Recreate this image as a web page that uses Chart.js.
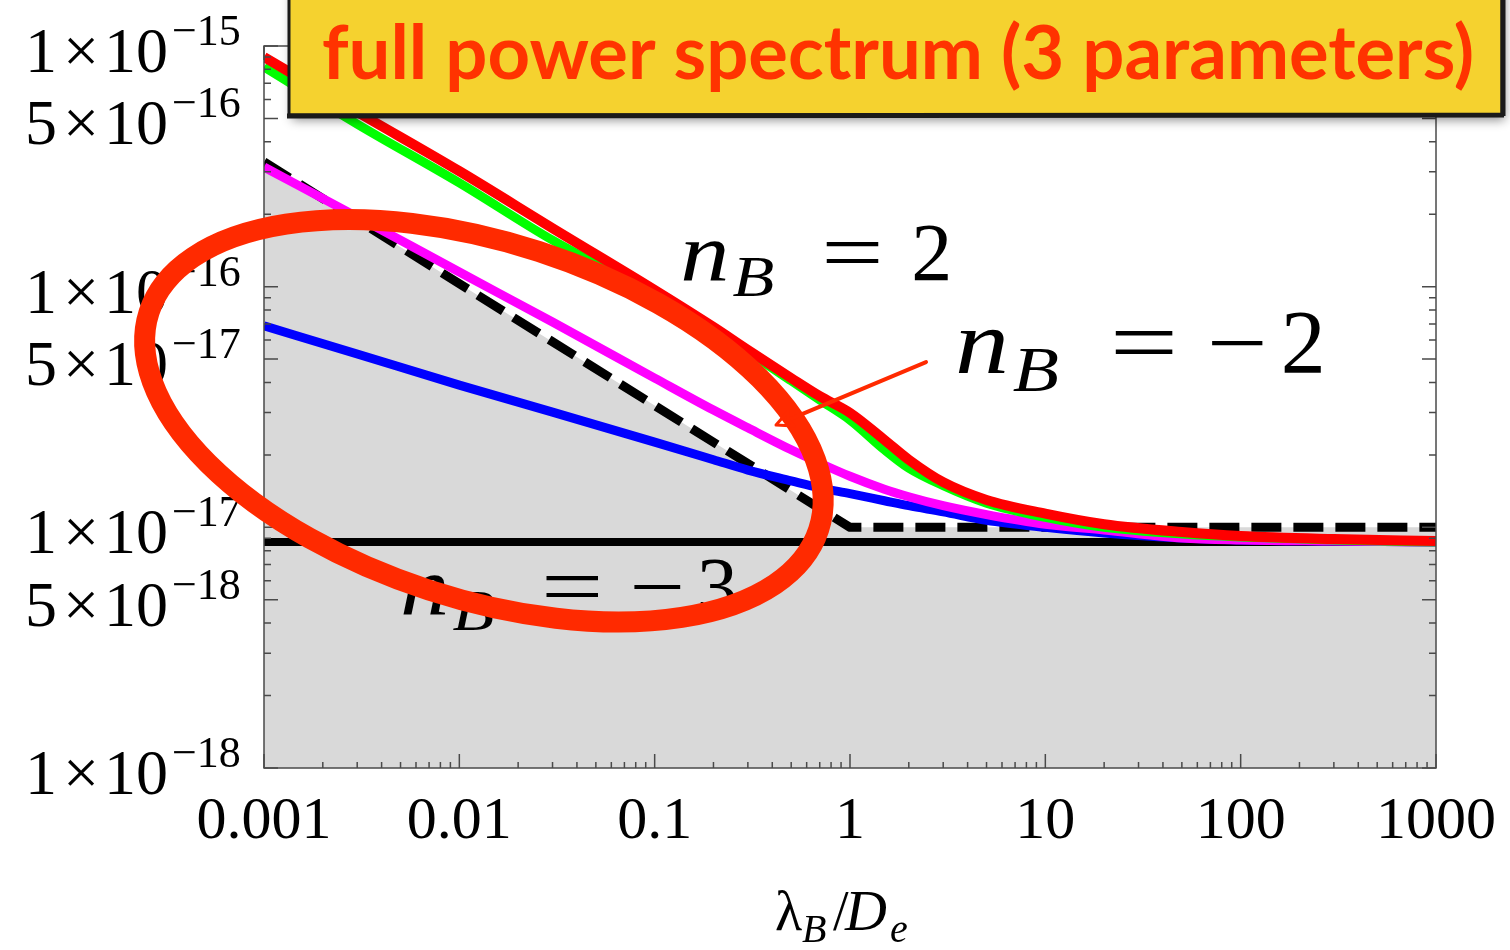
<!DOCTYPE html>
<html>
<head>
<meta charset="utf-8">
<script src="https://cdn.jsdelivr.net/npm/chart.js@4.4.1/dist/chart.umd.min.js"></script>
<style>
  html, body { margin: 0; padding: 0; background: #ffffff; }
  #wrap { width: 1510px; height: 950px; position: relative; }
</style>
</head>
<body>
<div id="wrap"><canvas id="spectrum"></canvas></div>
<script>
// Sampled ratio lambda_B / D_e (shared by the four spectra)
const lambdaRatio = [0.001, 0.003, 0.01, 0.03, 0.1, 0.2, 0.3, 0.5, 0.7, 1, 1.5, 2, 3, 5, 10, 20, 50, 100, 300, 1000];

// Bound on the field amplitude for each spectral index
const redSeries     = [9.0e-16, 5.32e-16, 3.02e-16, 1.75e-16, 9.69e-17, 6.80e-17, 5.46e-17, 4.17e-17, 3.51e-17, 2.99e-17, 2.31e-17, 1.91e-17, 1.54e-17, 1.30e-17, 1.14e-17, 1.03e-17, 9.56e-18, 9.20e-18, 8.94e-18, 8.77e-18];
const greenSeries   = [8.18e-16, 4.74e-16, 2.70e-16, 1.56e-16, 9.24e-17, 6.61e-17, 5.35e-17, 4.06e-17, 3.38e-17, 2.79e-17, 2.10e-17, 1.76e-17, 1.49e-17, 1.26e-17, 1.10e-17, 1.00e-17, 9.38e-18, 9.12e-18, 8.86e-18, 8.69e-18];
const magentaSeries = [3.14e-16, 1.95e-16, 1.15e-16, 7.13e-17, 4.17e-17, 3.07e-17, 2.59e-17, 2.10e-17, 1.85e-17, 1.63e-17, 1.44e-17, 1.34e-17, 1.23e-17, 1.13e-17, 1.03e-17, 9.75e-18, 9.03e-18, 8.86e-18, 8.77e-18, 8.69e-18];
const blueSeries    = [6.87e-17, 5.25e-17, 3.90e-17, 3.01e-17, 2.26e-17, 1.91e-17, 1.73e-17, 1.56e-17, 1.46e-17, 1.38e-17, 1.29e-17, 1.23e-17, 1.16e-17, 1.07e-17, 1.00e-17, 9.47e-18, 9.03e-18, 8.86e-18, 8.77e-18, 8.69e-18];

// Dashed envelope (grey excluded region) and the flat black floor
const boundX = [0.001, 1, 1000];
const boundY = [3.3e-16, 1e-17, 1e-17];
const floorX = [0.001, 1000];
const floorY = [8.7e-18, 8.7e-18];

// Axis ticks
const xTickValues = [0.001, 0.01, 0.1, 1, 10, 100, 1000];
const xTickLabels = ['0.001', '0.01', '0.1', '1', '10', '100', '1000'];
const yTickValues = [1e-15, 5e-16, 1e-16, 5e-17, 1e-17, 5e-18, 1e-18];
const yTickMantissa = ['1', '5', '1', '5', '1', '5', '1'];
const yTickExponent = ['\u221215', '\u221216', '\u221216', '\u221217', '\u221217', '\u221218', '\u221218'];

// Annotation anchors in data coordinates
const notePlus2  = { x: 0.135, y: 1.07e-16, sign: '', digit: '2', size: 82 };
const noteMinus2 = { x: 3.45,  y: 4.38e-17, sign: '\u2212', digit: '2', size: 90 };
const noteMinus3 = { x: 0.00497, y: 4.36e-18, sign: '\u2212', digit: '3', size: 82 };
const arrowFrom = { x: 2.45, y: 4.86e-17 };
const arrowTo   = { x: 0.418, y: 2.66e-17 };
const ringCenter = { x: 0.01336, y: 2.77e-17 };
const titleText = 'full power spectrum (3 parameters)';

const pts = (xs, ys) => xs.map((x, i) => ({ x: x, y: ys[i] }));
const SERIF = '"Liberation Serif", "Times New Roman", serif';

function drawMath(ctx, px, base, s, sign, digit) {
  ctx.fillStyle = '#000';
  ctx.textAlign = 'left';
  ctx.textBaseline = 'alphabetic';
  ctx.save();
  ctx.translate(px, base);
  ctx.scale(1.2, 1);
  ctx.font = 'italic ' + s + 'px ' + SERIF;
  ctx.fillText('n', 0, 0);
  ctx.restore();
  ctx.save();
  ctx.translate(px + 0.64 * s, base + 0.2 * s);
  ctx.scale(1.2, 1);
  ctx.font = 'italic ' + Math.round(s * 0.7) + 'px ' + SERIF;
  ctx.fillText('B', 0, 0);
  ctx.restore();
  ctx.font = s + 'px ' + SERIF;
  ctx.save();
  ctx.translate(px + 1.72 * s, base);
  ctx.scale(1.35, 1);
  ctx.fillText('=', 0, 0);
  ctx.restore();
  if (sign) {
    ctx.save();
    ctx.translate(px + 2.8 * s, base);
    ctx.scale(1.2, 1);
    ctx.fillText(sign, 0, 0);
    ctx.restore();
    ctx.fillText(digit, px + 3.62 * s, base);
  } else {
    ctx.fillText(digit, px + 2.82 * s, base);
  }
}

const frameAndNotes = {
  id: 'frameAndNotes',
  afterDatasetsDraw(chart) {
    const ctx = chart.ctx;
    const xs = chart.scales.x, ys = chart.scales.y;
    const a = chart.chartArea;
    ctx.save();
    ctx.strokeStyle = '#4a4a4a';
    ctx.lineWidth = 1.5;
    ctx.strokeRect(a.left, a.top, a.right - a.left, a.bottom - a.top);
    ctx.beginPath();
    // x ticks (bottom and top, pointing inward)
    for (let e = -3; e <= 3; e++) {
      for (let m = 1; m <= 9; m++) {
        const v = m * Math.pow(10, e);
        if (v > 1000 * 1.0001) continue;
        const p = xs.getPixelForValue(v);
        const len = m === 1 ? 14 : 6;
        ctx.moveTo(p, a.bottom); ctx.lineTo(p, a.bottom - len);
        ctx.moveTo(p, a.top); ctx.lineTo(p, a.top + len);
      }
    }
    // y ticks (left and right, pointing inward)
    for (let e = -18; e <= -16; e++) {
      for (let m = 1; m <= 10; m++) {
        const v = m * Math.pow(10, e);
        const p = ys.getPixelForValue(v);
        const len = (m === 1 || m === 5 || m === 10) ? 14 : 7;
        ctx.moveTo(a.left, p); ctx.lineTo(a.left + len, p);
        ctx.moveTo(a.right, p); ctx.lineTo(a.right - len, p);
      }
    }
    ctx.stroke();
    ctx.restore();
  },
  afterDraw(chart) {
    const ctx = chart.ctx;
    const xs = chart.scales.x, ys = chart.scales.y;
    const a = chart.chartArea;
    ctx.save();
    ctx.fillStyle = '#000';
    ctx.textBaseline = 'alphabetic';

    // y tick labels: mantissa, times sign, 10 and a superscript exponent
    yTickValues.forEach((v, i) => {
      const p = ys.getPixelForValue(v);
      ctx.font = '64px ' + SERIF;
      ctx.textAlign = 'right';
      ctx.fillText(yTickMantissa[i], a.left - 207, p + 26);
      ctx.fillText('10', a.left - 96, p + 26);
      ctx.textAlign = 'center';
      ctx.fillText('\u00d7', a.left - 183, p + 26);
      ctx.font = '44px ' + SERIF;
      ctx.textAlign = 'left';
      ctx.fillText(yTickExponent[i], a.left - 92, p - 1);
    });

    // x tick labels
    ctx.font = '60px ' + SERIF;
    ctx.textAlign = 'center';
    xTickValues.forEach((v, i) => {
      ctx.fillText(xTickLabels[i], xs.getPixelForValue(v), a.bottom + 70);
    });

    // x axis title  lambda_B / D_e
    const cx = (a.left + a.right) / 2 - 75;
    const tb = a.bottom + 162;
    ctx.textAlign = 'left';
    ctx.font = '56px ' + SERIF;
    ctx.fillText('\u03bb', cx, tb);
    ctx.font = 'italic 40px ' + SERIF;
    ctx.fillText('B', cx + 27, tb + 12);
    ctx.font = '56px ' + SERIF;
    ctx.fillText('/', cx + 58, tb);
    ctx.font = 'italic 58px ' + SERIF;
    ctx.fillText('D', cx + 70, tb);
    ctx.font = 'italic 40px ' + SERIF;
    ctx.fillText('e', cx + 115, tb + 12);

    // spectral index labels
    [notePlus2, noteMinus2, noteMinus3].forEach(n => {
      drawMath(ctx, xs.getPixelForValue(n.x), ys.getPixelForValue(n.y), n.size, n.sign, n.digit);
    });

    // highlight ring
    const ex = xs.getPixelForValue(ringCenter.x), ey = ys.getPixelForValue(ringCenter.y);
    ctx.strokeStyle = '#ff2a00';
    ctx.lineWidth = 21;
    ctx.beginPath();
    ctx.ellipse(ex, ey, 352, 178, 18 * Math.PI / 180, 0, Math.PI * 2);
    ctx.stroke();

    // arrow to the n_B = -2 curve
    const ax0 = xs.getPixelForValue(arrowFrom.x), ay0 = ys.getPixelForValue(arrowFrom.y);
    const ax1 = xs.getPixelForValue(arrowTo.x), ay1 = ys.getPixelForValue(arrowTo.y);
    const ang = Math.atan2(ay1 - ay0, ax1 - ax0);
    ctx.lineWidth = 4;
    ctx.lineCap = 'round';
    ctx.lineJoin = 'round';
    ctx.beginPath();
    ctx.moveTo(ax0, ay0);
    ctx.lineTo(ax1 + 14 * Math.cos(ang + Math.PI), ay1 + 14 * Math.sin(ang + Math.PI));
    ctx.stroke();
    ctx.beginPath();
    const hl = 18, hw = 0.45;
    ctx.moveTo(ax1, ay1);
    ctx.lineTo(ax1 - hl * Math.cos(ang - hw), ay1 - hl * Math.sin(ang - hw));
    ctx.lineTo(ax1 - hl * 0.75 * Math.cos(ang), ay1 - hl * 0.75 * Math.sin(ang));
    ctx.lineTo(ax1 - hl * Math.cos(ang + hw), ay1 - hl * Math.sin(ang + hw));
    ctx.closePath();
    ctx.lineWidth = 3;
    ctx.stroke();

    // title banner
    ctx.save();
    ctx.shadowColor = 'rgba(0,0,0,0.45)';
    ctx.shadowBlur = 10;
    ctx.shadowOffsetX = 3;
    ctx.shadowOffsetY = 5;
    ctx.fillStyle = '#f5d22f';
    ctx.fillRect(289, -20, 1213, 135);
    ctx.restore();
    ctx.strokeStyle = '#1a1a1a';
    ctx.lineWidth = 3;
    ctx.lineCap = 'butt';
    ctx.strokeRect(289, -20, 1213, 135);
    ctx.lineWidth = 5;
    ctx.beginPath();
    ctx.moveTo(287, 116); ctx.lineTo(1504, 115);
    ctx.moveTo(1503, -5); ctx.lineTo(1503, 116);
    ctx.stroke();
    ctx.fillStyle = '#ff3300';
    ctx.font = 'bold 75px Lato, "DejaVu Sans", sans-serif';
    ctx.textAlign = 'left';
    ctx.fillText(titleText, 322, 79, 1152);
    ctx.restore();
  }
};

const lineCommon = { pointRadius: 0, pointHoverRadius: 0, fill: false, borderCapStyle: 'butt', borderJoinStyle: 'round' };

new Chart(document.getElementById('spectrum'), {
  type: 'line',
  data: {
    datasets: [
      Object.assign({ label: 'nB = 2', data: pts(lambdaRatio, redSeries), borderColor: '#ff0000', borderWidth: 10, order: 0, cubicInterpolationMode: 'monotone' }, lineCommon),
      Object.assign({ label: 'green', data: pts(lambdaRatio, greenSeries), borderColor: '#00ff00', borderWidth: 9, order: 1, cubicInterpolationMode: 'monotone' }, lineCommon),
      Object.assign({ label: 'nB = -2', data: pts(lambdaRatio, magentaSeries), borderColor: '#ff00ff', borderWidth: 9, order: 2, cubicInterpolationMode: 'monotone' }, lineCommon),
      Object.assign({ label: 'nB = -3', data: pts(lambdaRatio, blueSeries), borderColor: '#0000ff', borderWidth: 9, order: 3, cubicInterpolationMode: 'monotone' }, lineCommon),
      Object.assign({}, lineCommon, { label: 'bound', data: pts(boundX, boundY), borderColor: '#000000', borderWidth: 9, borderDash: [30, 12], order: 4, tension: 0, fill: 'start', backgroundColor: '#d9d9d9' }),
      Object.assign({ label: 'floor', data: pts(floorX, floorY), borderColor: '#000000', borderWidth: 8, order: 5, tension: 0 }, lineCommon)
    ]
  },
  options: {
    responsive: true,
    maintainAspectRatio: false,
    animation: false,
    devicePixelRatio: 1,
    layout: { padding: { left: 264, top: 46, right: 74, bottom: 182 } },
    scales: {
      x: { type: 'logarithmic', min: 0.001, max: 1000, display: false },
      y: { type: 'logarithmic', min: 1e-18, max: 1e-15, display: false }
    },
    plugins: {
      legend: { display: false },
      tooltip: { enabled: false },
      filler: { drawTime: 'beforeDatasetsDraw' }
    }
  },
  plugins: [frameAndNotes]
});
</script>
</body>
</html>
